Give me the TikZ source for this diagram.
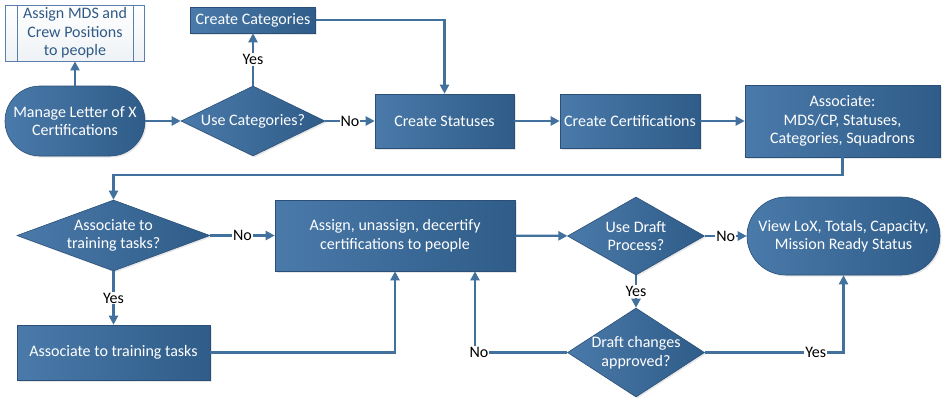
\documentclass[tikz,border=0pt]{standalone}
\usepackage{fontspec}
\setmainfont{Carlito}
\usetikzlibrary{arrows.meta,shapes.geometric,shadows}
\definecolor{boxtop}{HTML}{4A7AAA}
\definecolor{boxbot}{HTML}{2F5C88}
\definecolor{boxline}{HTML}{2A5079}
\definecolor{flowline}{HTML}{41719C}
\definecolor{pretext}{HTML}{2F5A87}
\definecolor{preline}{HTML}{5A7FAB}
\tikzset{> = {Triangle[length=9pt,width=9pt]},
  base/.style={font=\fontsize{16}{18.5}\selectfont, align=center, text=white,
    draw=boxline, line width=0.6pt, left color=boxtop, right color=boxbot,
    drop shadow={opacity=0.2,shadow xshift=1.5pt,shadow yshift=-1.5pt}},
  procbox/.style 2 args={base, rectangle, inner sep=0pt, minimum width=#1, minimum height=#2},
  termbox/.style 2 args={base, rectangle, inner sep=0pt, minimum width=#1, minimum height=#2, rounded corners=#2/2},
  decision/.style 2 args={base, diamond, inner sep=0pt, minimum width=#1, minimum height=#2},
  dectext/.style={font=\fontsize{16}{18.5}\selectfont, align=center, text=white},
  premade/.style={font=\fontsize{16}{18.5}\selectfont, align=center, text=pretext,
    draw=preline, line width=0.8pt, top color=white, bottom color=pretext!8,
    inner sep=0pt, minimum width=139pt, minimum height=56pt},
  flow/.style={->, draw=flowline, line width=2.2pt},
  lbl/.style={fill=white, text=black, inner sep=1pt, font=\fontsize{16}{18}\selectfont}
}

\begin{document}
\begin{tikzpicture}[x=1pt,y=-1pt]
	\useasboundingbox (0,0) rectangle (945,405);
	% first row
	\node[premade] (assignmds) at (75,33) {Assign MDS and\\Crew Positions\\to people};
	\draw[preline,line width=0.8pt] ([xshift=12pt]assignmds.north west)--([xshift=12pt]assignmds.south west);
	\draw[preline,line width=0.8pt] ([xshift=-12pt]assignmds.north east)--([xshift=-12pt]assignmds.south east);
	\node[termbox={140pt}{70pt}] (manage) at (75,121) {Manage Letter of X\\Certifications};
	\node[decision={144pt}{70pt}, label={[dectext]center:Use Categories?}] (usecat) at (253,121) {};
	\node[procbox={125pt}{26pt}] (createcat) at (253,20) {Create Categories};
	\node[procbox={139pt}{54pt}] (createstat) at (444.5,121) {Create Statuses};
	\node[procbox={140pt}{54pt}] (createcert) at (630,121) {Create Certifications};
	\node[procbox={195pt}{72pt}] (associate) at (842.5,121) {Associate:\\MDS/CP, Statuses,\\Categories, Squadrons};
	% second row
	\node[decision={193pt}{71pt}, label={[dectext]center:{Associate to\\training tasks?}}] (tasksq) at (113.5,235.5) {};
	\node[procbox={240pt}{71pt}] (assignun) at (395,235.5) {Assign, unassign, decertify\\certifications to people};
	\node[decision={137pt}{78pt}, label={[dectext]center:{Use Draft\\Process?}}] (draftq) at (636,236) {};
	\node[termbox={193pt}{78pt}] (viewlox) at (843.5,236) {View LoX, Totals, Capacity,\\Mission Ready Status};
	% third row
	\node[procbox={193pt}{55pt}] (taskbox) at (113.5,352.5) {Associate to training tasks};
	\node[decision={137pt}{89pt}, label={[dectext]center:{Draft changes\\approved?}}] (approveq) at (636,352.5) {};

	\draw[flow] (manage)--(assignmds);
	\draw[flow] (manage)--(usecat);
	\draw[flow] (usecat)--node[lbl]{Yes}(createcat);
	\draw[flow] (usecat)--node[lbl]{No}(createstat);
	\draw[flow] (createcat.east)-|(createstat.north);
	\draw[flow] (createstat)--(createcert);
	\draw[flow] (createcert)--(associate);
	\draw[flow] (associate.south)--++(0,18)-|(tasksq.north);
	\draw[flow] (tasksq)--node[lbl]{No}(assignun);
	\draw[flow] (tasksq)--node[lbl]{Yes}(taskbox);
	\draw[flow] (taskbox.east)-|(assignun.south);
	\draw[flow] (assignun)--(draftq);
	\draw[flow] (draftq)--node[lbl]{No}(viewlox);
	\draw[flow] (draftq)--node[lbl]{Yes}(approveq);
	\draw[flow] (approveq.west)-|node[lbl,pos=0.5,xshift=4pt]{No}([xshift=80pt]assignun.south);
	\draw[flow] (approveq.east)-|node[lbl,pos=0.4]{Yes}(viewlox.south);
\end{tikzpicture}
\end{document}
